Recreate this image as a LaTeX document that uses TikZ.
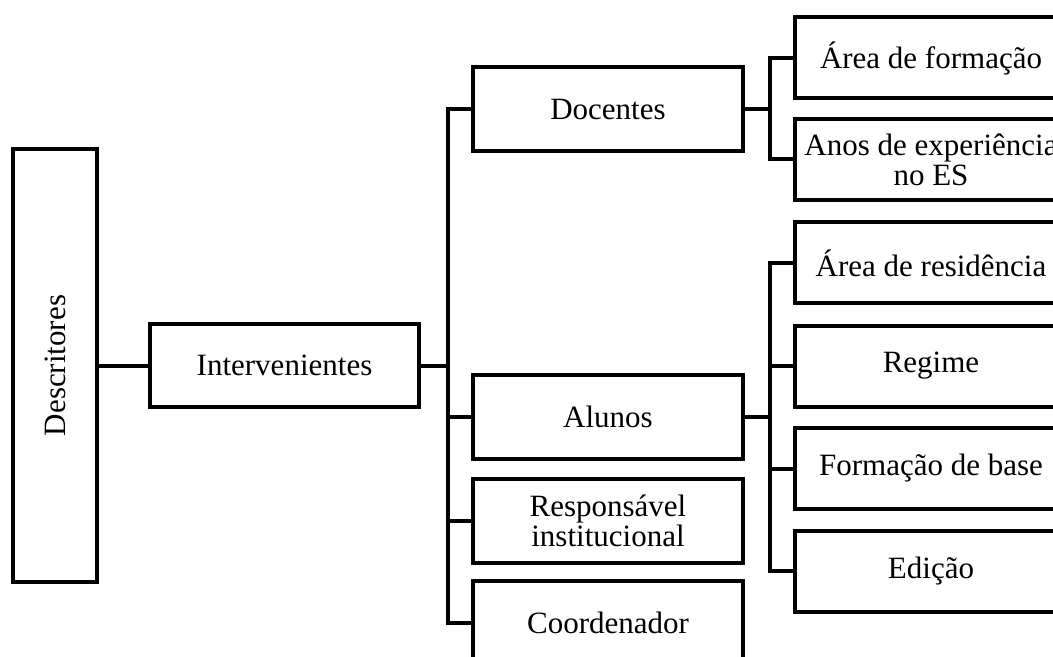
\documentclass[tikz,border=0pt]{standalone}
\usepackage{fontspec}
\setmainfont{Liberation Serif}
\usetikzlibrary{positioning}

\begin{document}
\begin{tikzpicture}[x=0.5pt,y=-0.5pt,
    box/.style={draw,line width=2pt,inner sep=0pt,align=center,
                font=\fontsize{15.5}{15}\selectfont},
    midbox/.style={box,minimum width=135pt,minimum height=42pt},
    leafbox/.style={box,minimum width=136pt,minimum height=40.5pt},
    link/.style={line width=2pt}]
  \useasboundingbox[fill=white] (0,0) rectangle (1053,657);
  \clip (0,0) rectangle (1053,657);
  % root and first level
  \node[box,minimum width=42pt,minimum height=216.5pt] (desc) at (55,365.5)
        {\rotatebox{90}{Descritores}};
  \node[box,minimum width=134.5pt,minimum height=41.5pt] (int) at (284.5,365.5)
        {Intervenientes};
  \draw[link] (desc) -- (int);
  % participants
  \node[midbox] (doc) at (608,109.5) {Docentes};
  \node[midbox] (alu) at (608,417)   {Alunos};
  \node[midbox] (res) at (608,520.5) {Respons\'avel\\institucional};
  \node[midbox] (coo) at (608,622.5) {Coordenador};
  \path (int.east) ++(27,0) coordinate (ta);
  \foreach \c in {doc,alu,res,coo}
    \draw[link] (int.east) -- (ta) |- (\c.west);
  % descriptors of the teachers
  \node[leafbox] (form) at (931,58)    {\'Area de forma\c{c}\~ao};
  \node[leafbox] (anos) at (931,159.5) {Anos de experi\^encia\\no ES};
  \path (doc.east) ++(25,0) coordinate (tb);
  \foreach \c in {form,anos}
    \draw[link] (doc.east) -- (tb) |- (\c.west);
  % descriptors of the students
  \node[leafbox] (resid) at (931,263)   {\'Area de resid\^encia};
  \node[leafbox] (reg)   at (931,366)   {Regime};
  \node[leafbox] (base)  at (931,468.5) {Forma\c{c}\~ao de base};
  \node[leafbox] (edi)   at (931,571)   {Edi\c{c}\~ao};
  \path (alu.east) ++(25,0) coordinate (tc);
  \foreach \c in {resid,reg,base,edi}
    \draw[link] (alu.east) -- (tc) |- (\c.west);
\end{tikzpicture}
\end{document}
